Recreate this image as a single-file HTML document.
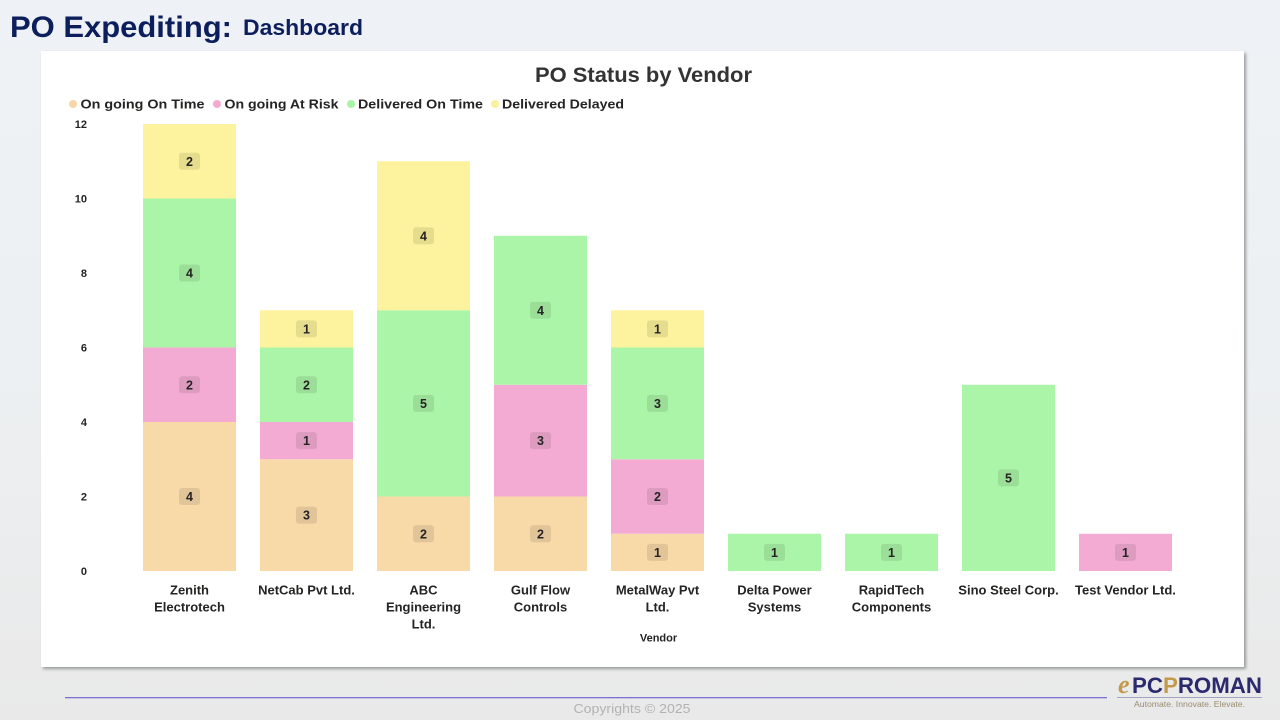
<!DOCTYPE html>
<html>
<head>
<meta charset="utf-8">
<style>
  html, body { margin:0; padding:0; }
  body {
    width:1280px; height:720px; overflow:hidden; position:relative;
    background: linear-gradient(180deg, #eef2f6 0%, #edf0f2 50%, #e9e9e9 100%);
    font-family: "Liberation Sans", sans-serif;
  }
  .panel {
    position:absolute; left:41px; top:51px; width:1203px; height:616px;
    background:#ffffff;
    box-shadow: 2px 2px 3px rgba(0,0,0,0.35);
  }
  svg { position:absolute; left:0; top:0; }
</style>
</head>
<body>
<div class="panel"></div>
<svg width="1280" height="720" viewBox="0 0 1280 720" xmlns="http://www.w3.org/2000/svg" font-family="Liberation Sans, sans-serif">
  <!-- Header -->
  <text x="10" y="37" font-size="30" font-weight="bold" fill="#0c1f5c" textLength="222" lengthAdjust="spacingAndGlyphs">PO Expediting:</text>
  <text x="243" y="35" font-size="22" font-weight="bold" fill="#0c1f5c" textLength="120" lengthAdjust="spacingAndGlyphs">Dashboard</text>

  <!-- Chart title -->
  <text x="643.5" y="82" font-size="21" font-weight="bold" fill="#333333" text-anchor="middle" textLength="217" lengthAdjust="spacingAndGlyphs">PO Status by Vendor</text>

  <!-- Legend -->
  <g font-size="13" font-weight="bold" fill="#252423">
    <circle cx="73" cy="104" r="4" fill="#f8d7a5"/>
    <text x="80.5" y="108.5" textLength="124" lengthAdjust="spacingAndGlyphs">On going On Time</text>
    <circle cx="217" cy="104" r="4" fill="#f4a9d2"/>
    <text x="224.5" y="108.5" textLength="114" lengthAdjust="spacingAndGlyphs">On going At Risk</text>
    <circle cx="351" cy="104" r="4" fill="#a9f3a6"/>
    <text x="358" y="108.5" textLength="125" lengthAdjust="spacingAndGlyphs">Delivered On Time</text>
    <circle cx="495" cy="104" r="4" fill="#fcf09c"/>
    <text x="502" y="108.5" textLength="122" lengthAdjust="spacingAndGlyphs">Delivered Delayed</text>
  </g>

  <!-- Y axis ticks -->
  <g font-size="11" font-weight="bold" fill="#252423" text-anchor="end">
    <text x="87" y="575">0</text>
    <text x="87" y="500.5">2</text>
    <text x="87" y="426">4</text>
    <text x="87" y="351.5">6</text>
    <text x="87" y="277">8</text>
    <text x="87" y="202.5">10</text>
    <text x="87" y="128">12</text>
  </g>

  <!-- Bars -->
  <g>
    <rect x="143" y="422" width="93" height="149" fill="#f8d9a8"/>
    <rect x="143" y="347.5" width="93" height="74.5" fill="#f4abd3"/>
    <rect x="143" y="198.5" width="93" height="149" fill="#abf5a8"/>
    <rect x="143" y="124" width="93" height="74.5" fill="#fdf29d"/>
    <rect x="260" y="459.25" width="93" height="111.75" fill="#f8d9a8"/>
    <rect x="260" y="422" width="93" height="37.25" fill="#f4abd3"/>
    <rect x="260" y="347.5" width="93" height="74.5" fill="#abf5a8"/>
    <rect x="260" y="310.25" width="93" height="37.25" fill="#fdf29d"/>
    <rect x="377" y="496.5" width="93" height="74.5" fill="#f8d9a8"/>
    <rect x="377" y="310.25" width="93" height="186.25" fill="#abf5a8"/>
    <rect x="377" y="161.25" width="93" height="149" fill="#fdf29d"/>
    <rect x="494" y="496.5" width="93" height="74.5" fill="#f8d9a8"/>
    <rect x="494" y="384.75" width="93" height="111.75" fill="#f4abd3"/>
    <rect x="494" y="235.75" width="93" height="149" fill="#abf5a8"/>
    <rect x="611" y="533.75" width="93" height="37.25" fill="#f8d9a8"/>
    <rect x="611" y="459.25" width="93" height="74.5" fill="#f4abd3"/>
    <rect x="611" y="347.5" width="93" height="111.75" fill="#abf5a8"/>
    <rect x="611" y="310.25" width="93" height="37.25" fill="#fdf29d"/>
    <rect x="728" y="533.75" width="93" height="37.25" fill="#abf5a8"/>
    <rect x="845" y="533.75" width="93" height="37.25" fill="#abf5a8"/>
    <rect x="962" y="384.75" width="93" height="186.25" fill="#abf5a8"/>
    <rect x="1079" y="533.75" width="93" height="37.25" fill="#f4abd3"/>
  </g>

  <!-- Data labels -->
  <g font-size="12.5" font-weight="bold" fill="#252423" text-anchor="middle">
    <rect x="179" y="488" width="21" height="17" rx="3" fill="rgba(0,0,0,0.09)"/><text x="189.5" y="501">4</text>
    <rect x="179" y="376.25" width="21" height="17" rx="3" fill="rgba(0,0,0,0.09)"/><text x="189.5" y="389.25">2</text>
    <rect x="179" y="264.5" width="21" height="17" rx="3" fill="rgba(0,0,0,0.09)"/><text x="189.5" y="277.5">4</text>
    <rect x="179" y="152.75" width="21" height="17" rx="3" fill="rgba(0,0,0,0.09)"/><text x="189.5" y="165.75">2</text>
    <rect x="296" y="506.6" width="21" height="17" rx="3" fill="rgba(0,0,0,0.09)"/><text x="306.5" y="519.6">3</text>
    <rect x="296" y="432.1" width="21" height="17" rx="3" fill="rgba(0,0,0,0.09)"/><text x="306.5" y="445.1">1</text>
    <rect x="296" y="376.25" width="21" height="17" rx="3" fill="rgba(0,0,0,0.09)"/><text x="306.5" y="389.25">2</text>
    <rect x="296" y="320.4" width="21" height="17" rx="3" fill="rgba(0,0,0,0.09)"/><text x="306.5" y="333.4">1</text>
    <rect x="413" y="525.25" width="21" height="17" rx="3" fill="rgba(0,0,0,0.09)"/><text x="423.5" y="538.25">2</text>
    <rect x="413" y="394.9" width="21" height="17" rx="3" fill="rgba(0,0,0,0.09)"/><text x="423.5" y="407.9">5</text>
    <rect x="413" y="227.25" width="21" height="17" rx="3" fill="rgba(0,0,0,0.09)"/><text x="423.5" y="240.25">4</text>
    <rect x="530" y="525.25" width="21" height="17" rx="3" fill="rgba(0,0,0,0.09)"/><text x="540.5" y="538.25">2</text>
    <rect x="530" y="432.1" width="21" height="17" rx="3" fill="rgba(0,0,0,0.09)"/><text x="540.5" y="445.1">3</text>
    <rect x="530" y="301.75" width="21" height="17" rx="3" fill="rgba(0,0,0,0.09)"/><text x="540.5" y="314.75">4</text>
    <rect x="647" y="543.9" width="21" height="17" rx="3" fill="rgba(0,0,0,0.09)"/><text x="657.5" y="556.9">1</text>
    <rect x="647" y="488" width="21" height="17" rx="3" fill="rgba(0,0,0,0.09)"/><text x="657.5" y="501">2</text>
    <rect x="647" y="394.9" width="21" height="17" rx="3" fill="rgba(0,0,0,0.09)"/><text x="657.5" y="407.9">3</text>
    <rect x="647" y="320.4" width="21" height="17" rx="3" fill="rgba(0,0,0,0.09)"/><text x="657.5" y="333.4">1</text>
    <rect x="764" y="543.9" width="21" height="17" rx="3" fill="rgba(0,0,0,0.09)"/><text x="774.5" y="556.9">1</text>
    <rect x="881" y="543.9" width="21" height="17" rx="3" fill="rgba(0,0,0,0.09)"/><text x="891.5" y="556.9">1</text>
    <rect x="998" y="469.4" width="21" height="17" rx="3" fill="rgba(0,0,0,0.09)"/><text x="1008.5" y="482.4">5</text>
    <rect x="1115" y="543.9" width="21" height="17" rx="3" fill="rgba(0,0,0,0.09)"/><text x="1125.5" y="556.9">1</text>
  </g>

  <!-- Category labels -->
  <g font-size="13" font-weight="bold" fill="#252423" text-anchor="middle">
    <text x="189.5" y="594.5">Zenith</text>
    <text x="189.5" y="611.5">Electrotech</text>
    <text x="306.5" y="594.5">NetCab Pvt Ltd.</text>
    <text x="423.5" y="594.5">ABC</text>
    <text x="423.5" y="611.5">Engineering</text>
    <text x="423.5" y="628.5">Ltd.</text>
    <text x="540.5" y="594.5">Gulf Flow</text>
    <text x="540.5" y="611.5">Controls</text>
    <text x="657.5" y="594.5">MetalWay Pvt</text>
    <text x="657.5" y="611.5">Ltd.</text>
    <text x="774.5" y="594.5">Delta Power</text>
    <text x="774.5" y="611.5">Systems</text>
    <text x="891.5" y="594.5">RapidTech</text>
    <text x="891.5" y="611.5">Components</text>
    <text x="1008.5" y="594.5">Sino Steel Corp.</text>
    <text x="1125.5" y="594.5">Test Vendor Ltd.</text>
  </g>
  <text x="658.5" y="641.5" font-size="11" font-weight="bold" fill="#252423" text-anchor="middle">Vendor</text>

  <!-- Footer -->
  <rect x="65" y="697" width="1042" height="1.3" fill="#7d70d4"/>
  <text x="632" y="713" font-size="13" fill="#b2b2b2" text-anchor="middle" textLength="117" lengthAdjust="spacingAndGlyphs">Copyrights © 2025</text>

  <!-- Logo -->
  <text x="1118" y="693" font-family="Liberation Serif, serif" font-style="italic" font-weight="bold" font-size="26" fill="#c39a4c">e</text>
  <text x="1132" y="693" font-size="22" font-weight="bold" fill="#2b2a6e" textLength="130" lengthAdjust="spacingAndGlyphs">PC<tspan fill="#c39a4c">P</tspan>ROMAN</text>
  <rect x="1117" y="697" width="145" height="1" fill="#a5a3c4"/>
  <text x="1189.5" y="707" font-size="8" fill="#9a8c70" text-anchor="middle" textLength="111" lengthAdjust="spacingAndGlyphs">Automate. Innovate. Elevate.</text>
</svg>
</body>
</html>
